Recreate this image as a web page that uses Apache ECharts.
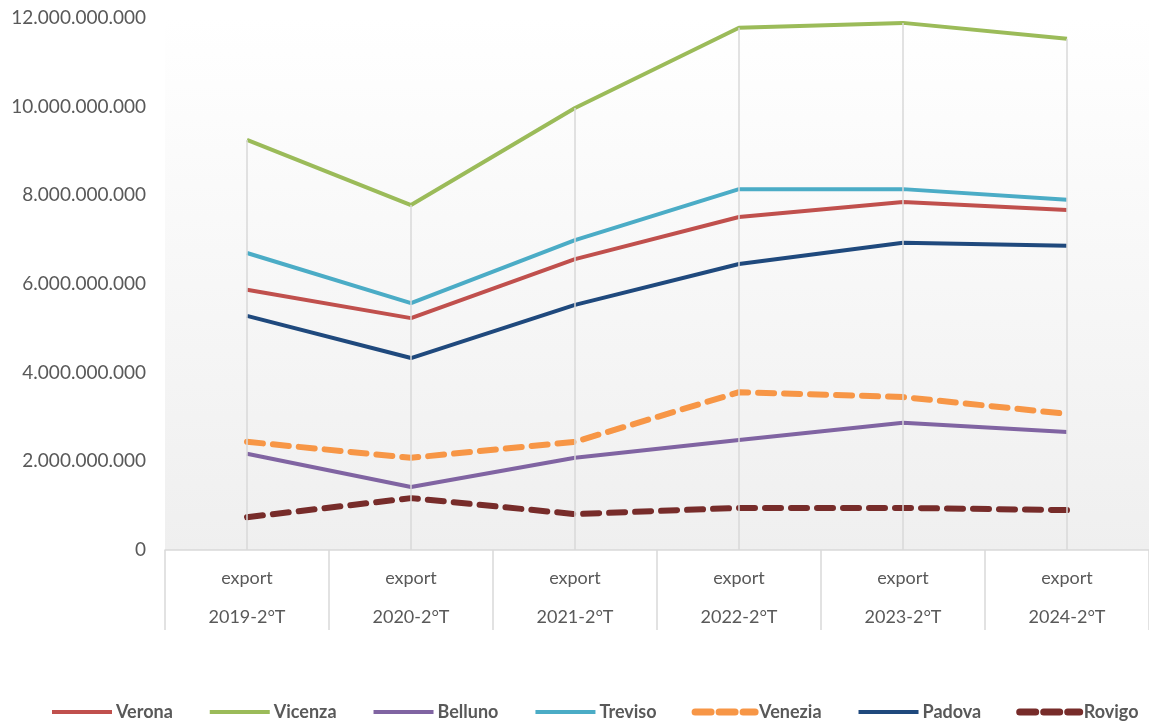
<!DOCTYPE html>
<html>
<head>
<meta charset="utf-8">
<script src="https://cdn.jsdelivr.net/npm/echarts@6/dist/echarts.min.js"></script>
<style>
  html, body { margin: 0; padding: 0; background: #fff; }
  #chart { width: 1149px; height: 726px; }
</style>
</head>
<body>
<div id="chart"></div>
<script>
const periods = ['2019-2°T', '2020-2°T', '2021-2°T', '2022-2°T', '2023-2°T', '2024-2°T']
const flowLabel = 'export'

// valori export per provincia
const verona = [5.87e9, 5.23e9, 6.56e9, 7.51e9, 7.85e9, 7.67e9]
const vicenza = [9.25e9, 7.78e9, 9.97e9, 11.78e9, 11.89e9, 11.53e9]
const belluno = [2.17e9, 1.42e9, 2.08e9, 2.48e9, 2.87e9, 2.66e9]
const treviso = [6.70e9, 5.57e9, 6.99e9, 8.14e9, 8.14e9, 7.90e9]
const venezia = [2.44e9, 2.08e9, 2.44e9, 3.56e9, 3.45e9, 3.07e9]
const padova = [5.28e9, 4.33e9, 5.53e9, 6.45e9, 6.93e9, 6.86e9]
const rovigo = [0.74e9, 1.17e9, 0.81e9, 0.95e9, 0.95e9, 0.90e9]

const yTicks = { min: 0, max: 12000000000, interval: 2000000000 }

const provinces = [
  { name: 'Verona', data: verona, color: '#c0504d', dashed: false },
  { name: 'Vicenza', data: vicenza, color: '#9bbb59', dashed: false },
  { name: 'Belluno', data: belluno, color: '#8064a2', dashed: false },
  { name: 'Treviso', data: treviso, color: '#4bacc6', dashed: false },
  { name: 'Venezia', data: venezia, color: '#f79646', dashed: true },
  { name: 'Padova', data: padova, color: '#1f497d', dashed: false },
  { name: 'Rovigo', data: rovigo, color: '#772c2a', dashed: true }
]

function fmt (v) {
  return String(v).replace(/\B(?=(\d{3})+(?!\d))/g, '.')
}

// linee verticali (drop lines) dal punto più alto fino a zero
const dropLines = periods.map(function (p, i) {
  const top = Math.max.apply(null, provinces.map(function (s) { return s.data[i] }))
  return [{ coord: [i, top] }, { coord: [i, 0] }]
})

const chart = echarts.init(document.getElementById('chart'))

const series = provinces.map(function (s) {
  return {
    name: s.name,
    type: 'line',
    data: s.data,
    symbol: 'none',
    z: 3,
    itemStyle: { color: s.color },
    lineStyle: s.dashed
      ? { color: s.color, width: 6, type: [16, 10], cap: 'round' }
      : { color: s.color, width: 4 }
  }
})
series.unshift({
  name: 'drop',
  type: 'line',
  data: [],
  z: 1,
  markLine: {
    silent: true,
    symbol: 'none',
    label: { show: false },
    lineStyle: { color: '#d9d9d9', width: 1.5, type: 'solid' },
    data: dropLines
  }
})

const option = {
  animation: false,
  backgroundColor: '#ffffff',
  grid: {
    left: 165,
    right: 0,
    top: 18,
    bottom: 176,
    show: true,
    borderWidth: 0,
    backgroundColor: new echarts.graphic.LinearGradient(0, 0, 0, 1, [
      { offset: 0, color: '#ffffff' },
      { offset: 1, color: '#efefef' }
    ])
  },
  legend: {
    data: provinces.map(function (s) {
      return {
        name: s.name,
        lineStyle: s.dashed
          ? { width: 7, type: [16, 8], cap: 'round' }
          : { width: 4 }
      }
    }),
    bottom: 0,
    left: 45,
    width: 1104,
    itemWidth: 60,
    itemHeight: 10,
    itemGap: 35,
    itemStyle: { opacity: 0 },
    textStyle: {
      fontFamily: 'Lato',
      fontWeight: 'bold',
      fontSize: 18,
      color: '#595959',
      padding: [0, 0, 0, -1]
    }
  },
  xAxis: {
    type: 'category',
    data: periods,
    boundaryGap: true,
    axisLine: { lineStyle: { color: '#d9d9d9', width: 1.5 } },
    axisTick: {
      show: true,
      interval: 0,
      length: 80,
      lineStyle: { color: '#d9d9d9', width: 1.5 }
    },
    axisLabel: {
      interval: 0,
      margin: 9,
      lineHeight: 39,
      fontFamily: 'Lato',
      fontSize: 18,
      color: '#595959',
      formatter: function (v) { return flowLabel + '\n' + v }
    },
    splitLine: { show: false }
  },
  yAxis: {
    type: 'value',
    min: yTicks.min,
    max: yTicks.max,
    interval: yTicks.interval,
    axisLine: { show: false },
    axisTick: { show: false },
    splitLine: { show: false },
    axisLabel: {
      margin: 19,
      fontFamily: 'Lato',
      fontSize: 19,
      color: '#595959',
      formatter: fmt
    }
  },
  series: series
}

chart.setOption(option)
</script>
</body>
</html>
